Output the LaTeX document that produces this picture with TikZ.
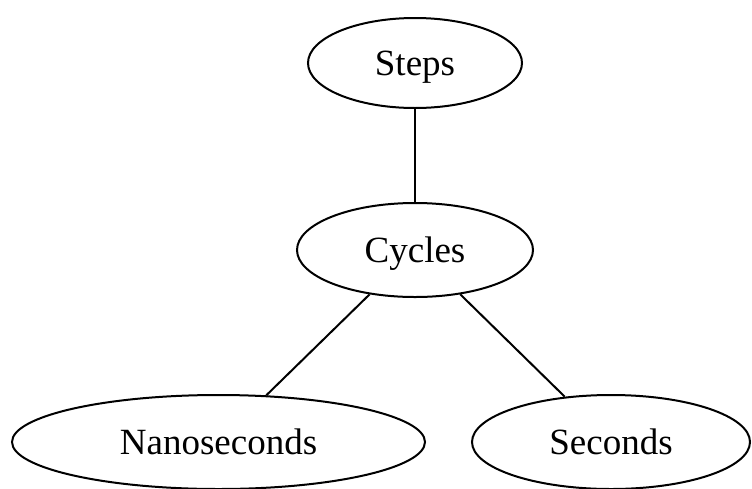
\documentclass[tikz,border=0pt]{standalone}
\usepackage{fontspec}
\setmainfont{Liberation Serif}
\usetikzlibrary{shapes.geometric}
\begin{document}
\begin{tikzpicture}[x=1pt,y=-1pt,
  gnode/.style={draw,ellipse,line width=2pt,inner sep=0pt,text height=24.5pt,text depth=0pt,font=\fontsize{37}{44}\selectfont},
  gedge/.style={line width=2pt}]
\useasboundingbox (0,0) rectangle (752,488);
\node[gnode,minimum width=214,minimum height=90] (steps) at (415,63) {Steps};
\node[gnode,minimum width=236,minimum height=94] (cycles) at (415,250) {Cycles};
\node[gnode,minimum width=413,minimum height=94] (nano) at (218.5,442) {Nanoseconds};
\node[gnode,minimum width=278,minimum height=94] (sec) at (611,442) {Seconds};
\draw[gedge] (steps) -- (cycles);
\draw[gedge] (cycles) -- (nano);
\draw[gedge] (cycles) -- (sec);
\end{tikzpicture}
\end{document}
